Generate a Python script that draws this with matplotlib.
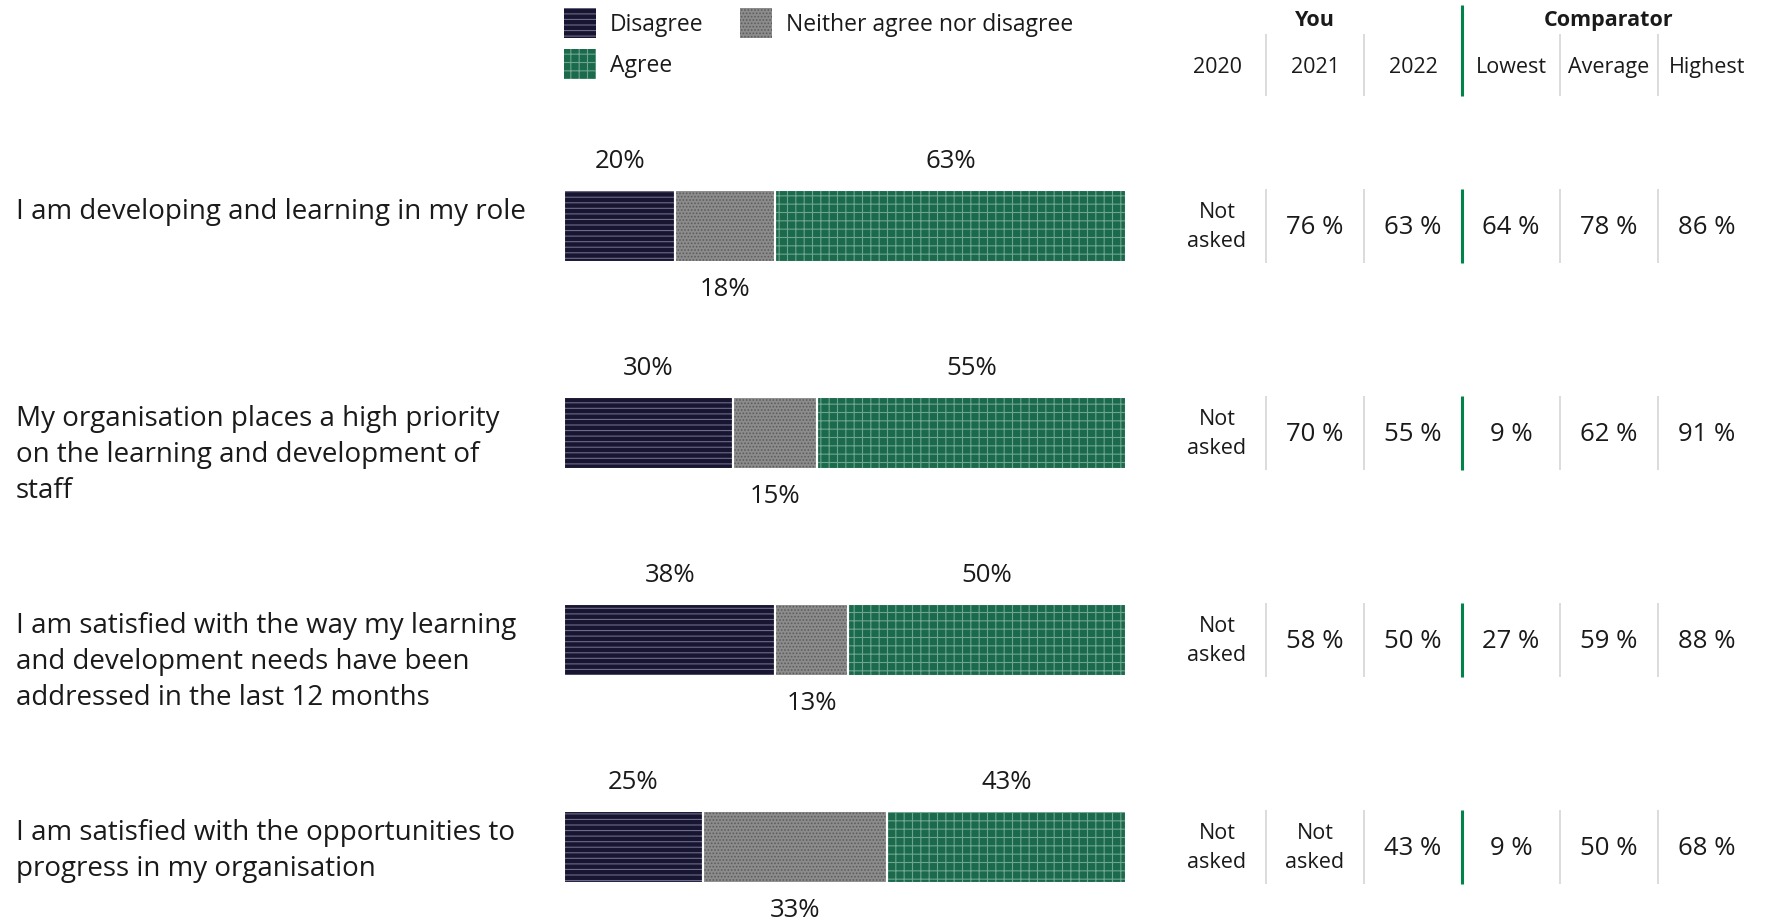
import matplotlib
matplotlib.use("Agg")
from matplotlib import pyplot as plt
import numpy as np

plt.rcParams['font.family'] = ['Open Sans', 'DejaVu Sans']
plt.rcParams['hatch.linewidth'] = 0.8

# ---- data
questions = [
    "I am developing and learning in my role",
    "My organisation places a high priority\non the learning and development of\nstaff",
    "I am satisfied with the way my learning\nand development needs have been\naddressed in the last 12 months",
    "I am satisfied with the opportunities to\nprogress in my organisation",
]
disagree = np.array([20, 30, 38, 25])
neither = np.array([18, 15, 13, 33])
agree = np.array([63, 55, 50, 43])

col_labels = ["2020", "2021", "2022", "Lowest", "Average", "Highest"]
you_2020 = [None, None, None, None]
you_2021 = [76, 70, 58, None]
you_2022 = [63, 55, 50, 43]
comp_lowest = [64, 9, 27, 9]
comp_average = [78, 62, 59, 50]
comp_highest = [86, 91, 88, 68]

# ---- styles
c_dis, h_dis = '#17152f', '#6d6b8c'
c_nei, h_nei = '#8c8c8c', '#5c5c5c'
c_agr, h_agr = '#1b6a4d', '#6ea58e'
green_line = '#00844a'
grey_line = '#d6d6d6'
txt = '#1a1a1a'

W, H = 1773, 920
fig = plt.figure(figsize=(W / 100, H / 100 + 0.001), dpi=100)

# row i sits at pixel 226 + 207*i from top
ylim = ((H - 226) / 207, -226 / 207)
bh = 72 / 207

ax = fig.add_axes([564 / W, 0, 562 / W, 1])
ax.set_xlim(0, 100)
ax.set_ylim(*ylim)
ax.axis('off')

rows = np.arange(len(questions))
tot = disagree + neither + agree
d_w = disagree / tot * 100
n_w = neither / tot * 100
a_w = agree / tot * 100

b1 = ax.barh(rows, d_w, height=bh, color=c_dis, hatch='---', edgecolor=h_dis, lw=0, label='Disagree')
b2 = ax.barh(rows, n_w, left=d_w, height=bh, color=c_nei, hatch='.....', edgecolor=h_nei, lw=0,
             label='Neither agree nor disagree')
b3 = ax.barh(rows, a_w, left=d_w + n_w, height=bh, color=c_agr, hatch='++', edgecolor=h_agr, lw=0, label='Agree')
# white separators between segments
for left, w in [(0, d_w), (d_w, n_w), (d_w + n_w, a_w)]:
    ax.barh(rows, w, left=left, height=bh, fill=False, edgecolor='white', lw=1.5)

fs_bar = 18.5
for i in rows:
    ax.text(d_w[i] / 2, i - 0.31, f"{disagree[i]}%", ha='center', va='center', fontsize=fs_bar, color=txt)
    ax.text(d_w[i] + n_w[i] / 2, i + 0.305, f"{neither[i]}%", ha='center', va='center', fontsize=fs_bar, color=txt)
    ax.text(d_w[i] + n_w[i] + a_w[i] / 2, i - 0.31, f"{agree[i]}%", ha='center', va='center', fontsize=fs_bar,
            color=txt)

# question labels (baseline of last line given, so shift by number of lines)
line_gap = 0.175
for i, q in enumerate(questions):
    n = q.count("\n")
    ax.text(-548 / 562 * 100, i - 0.035 + n * line_gap, q, ha='left', va='baseline', fontsize=20, color=txt,
            linespacing=1.385)

# legend
leg = ax.legend(handles=[b1, b3, b2], ncol=2, loc='upper left', bbox_to_anchor=(0, 1 - 8 / H),
                frameon=False, fontsize=16.5, handlelength=1.4, handleheight=1.64, handletextpad=0.6,
                columnspacing=1.6, labelspacing=0.5, borderpad=0, borderaxespad=0)
for t in leg.get_texts():
    t.set_color(txt)

# ---- table
tax = fig.add_axes([1168 / W, 0, 588 / W, 1])
tax.set_xlim(0, 6)
tax.set_ylim(*ylim)
tax.axis('off')

columns = [you_2020, you_2021, you_2022, comp_lowest, comp_average, comp_highest]
for j, col in enumerate(columns):
    for i, v in enumerate(col):
        if v is None:
            tax.text(j + 0.5, i + 0.005, "Not\nasked", ha='center', va='center', fontsize=15.5, color=txt,
                     linespacing=1.5)
        else:
            tax.text(j + 0.5, i + 0.008, f"{v} %", ha='center', va='center', fontsize=18.5, color=txt)

for j, lab in enumerate(col_labels):
    tax.text(j + 0.5, -0.768, lab, ha='center', va='center', fontsize=15.5, color=txt)
tax.text(1.5, -0.993, "You", ha='center', va='center', fontsize=15.5, fontweight='bold', color=txt)
tax.text(4.5, -0.993, "Comparator", ha='center', va='center', fontsize=15.5, fontweight='bold', color=txt)

seps = [1, 2, 4, 5]
tax.vlines(seps, -0.928, -0.628, color=grey_line, lw=1.2)
tax.vlines(3, -1.068, -0.628, color=green_line, lw=2.2)
for i in rows:
    tax.vlines(seps, i - 0.18, i + 0.18, color=grey_line, lw=1.2)
    tax.vlines(3, i - 0.18, i + 0.18, color=green_line, lw=2.2)

fig.savefig("out.png", dpi=100, facecolor='white')
